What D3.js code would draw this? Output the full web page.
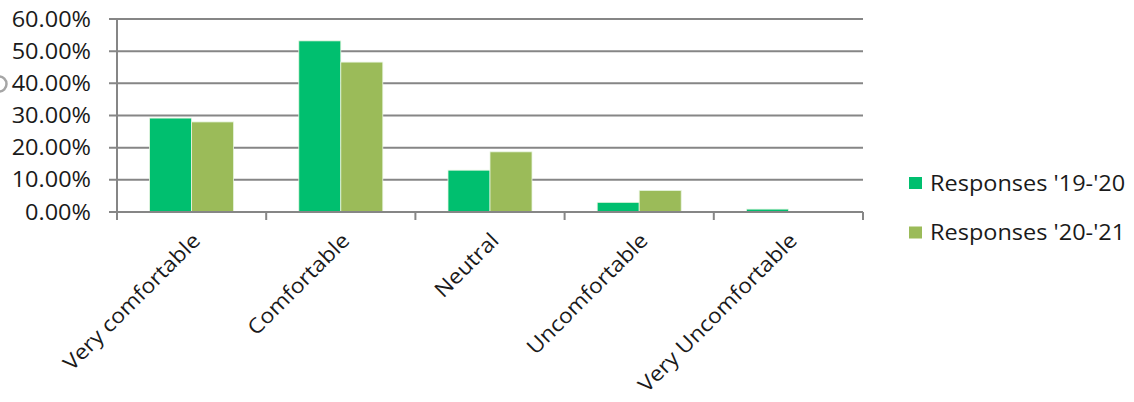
<!DOCTYPE html>
<html>
<head>
<meta charset="utf-8">
<script src="https://cdn.jsdelivr.net/npm/d3@7"></script>
<style>
  html, body { margin: 0; padding: 0; background: #fff; }
  svg { display: block; }
  text { font-family: "Open Sans", "Noto Sans", sans-serif; fill: #1a1a1a; }
</style>
</head>
<body>
<svg id="chart" width="1134" height="402"></svg>
<script>
// Comfort level survey responses, share of respondents per category
const categories = ["Very comfortable", "Comfortable", "Neutral", "Uncomfortable", "Very Uncomfortable"];
const seriesNames = ["Responses '19-'20", "Responses '20-'21"];
const responses1920 = [0.292, 0.532, 0.130, 0.030, 0.009];
const responses2021 = [0.280, 0.466, 0.187, 0.067, 0.000];
const yTicks = [0, 0.1, 0.2, 0.3, 0.4, 0.5, 0.6];
const colors = ["#00BF6F", "#9BBB59"];

const svg = d3.select("#chart");
const margin = { left: 117, right: 1134 - 863, top: 19, bottom: 402 - 212 };
const width = 863 - margin.left;
const height = 212 - margin.top;

const fontSize = 21;
const stretch = 1.12; // slightly wide lettering

const g = svg.append("g").attr("transform", `translate(${margin.left},${margin.top})`);

const x = d3.scaleBand().domain(categories).range([0, width]).paddingInner(0).paddingOuter(0);
const barW = 42;
const xs = d3.scaleBand().domain(seriesNames).range([x.bandwidth() / 2 - barW, x.bandwidth() / 2 + barW]);
const y = d3.scaleLinear().domain([0, 0.6]).range([height, 0]);

const gridColor = "#868686";

// Horizontal gridlines with short outer ticks on the left
g.append("g")
  .selectAll("line")
  .data(yTicks)
  .join("line")
  .attr("x1", -8)
  .attr("x2", width)
  .attr("y1", d => y(d))
  .attr("y2", d => y(d))
  .attr("stroke", gridColor)
  .attr("stroke-width", 2);

// Y tick labels
g.append("g")
  .selectAll("text")
  .data(yTicks)
  .join("text")
  .attr("transform", d => `translate(-26,${y(d)}) scale(${stretch},1)`)
  .attr("dy", "0.36em")
  .attr("text-anchor", "end")
  .attr("font-size", fontSize)
  .text(d => d3.format(".2%")(d));

// Bars
const rows = categories.map((c, i) => ({ cat: c, vals: [responses1920[i], responses2021[i]] }));
const groups = g.append("g")
  .selectAll("g")
  .data(rows)
  .join("g")
  .attr("transform", d => `translate(${x(d.cat)},0)`);

groups.selectAll("rect")
  .data(d => d.vals.map((v, k) => ({ v, k })))
  .join("rect")
  .attr("x", d => xs(seriesNames[d.k]))
  .attr("width", xs.bandwidth())
  .attr("y", d => y(d.v))
  .attr("height", d => y(0) - y(d.v))
  .attr("fill", d => colors[d.k])
  .attr("stroke", d => d.v > 0 ? "#e8f5e0" : "none")
  .attr("stroke-width", 0.8);

// Y axis line
g.append("line")
  .attr("x1", 0).attr("x2", 0)
  .attr("y1", 0).attr("y2", height + 8)
  .attr("stroke", gridColor).attr("stroke-width", 2);

// Baseline and category ticks
g.append("line")
  .attr("x1", 0).attr("x2", width)
  .attr("y1", height).attr("y2", height)
  .attr("stroke", gridColor).attr("stroke-width", 2);

g.append("g")
  .selectAll("line")
  .data(d3.range(categories.length + 1))
  .join("line")
  .attr("x1", i => i * x.step())
  .attr("x2", i => i * x.step())
  .attr("y1", height)
  .attr("y2", height + 8)
  .attr("stroke", gridColor)
  .attr("stroke-width", 2);

// Rotated category labels
g.append("g")
  .selectAll("text")
  .data(categories)
  .join("text")
  .attr("transform", d => `translate(${x(d) + x.bandwidth() / 2 + 10},${height + 30}) rotate(-45) scale(1.09,1)`)
  .attr("text-anchor", "end")
  .attr("font-size", fontSize)
  .text(d => d);

// Legend
const legend = svg.append("g").attr("transform", "translate(909,177)");
seriesNames.forEach((name, k) => {
  const row = legend.append("g").attr("transform", `translate(0,${k * 49.5})`);
  row.append("rect").attr("x", 0).attr("y", 0).attr("width", 13).attr("height", 12).attr("fill", colors[k]);
  row.append("text")
    .attr("transform", `translate(21,6) scale(${stretch},1)`)
    .attr("dy", "0.36em")
    .attr("font-size", fontSize)
    .text(name);
});

// Small circular handle at the left edge
svg.append("circle")
  .attr("cx", -1).attr("cy", 84).attr("r", 7.5)
  .attr("fill", "none").attr("stroke", "#a6a6a6").attr("stroke-width", 2.5);
</script>
</body>
</html>
